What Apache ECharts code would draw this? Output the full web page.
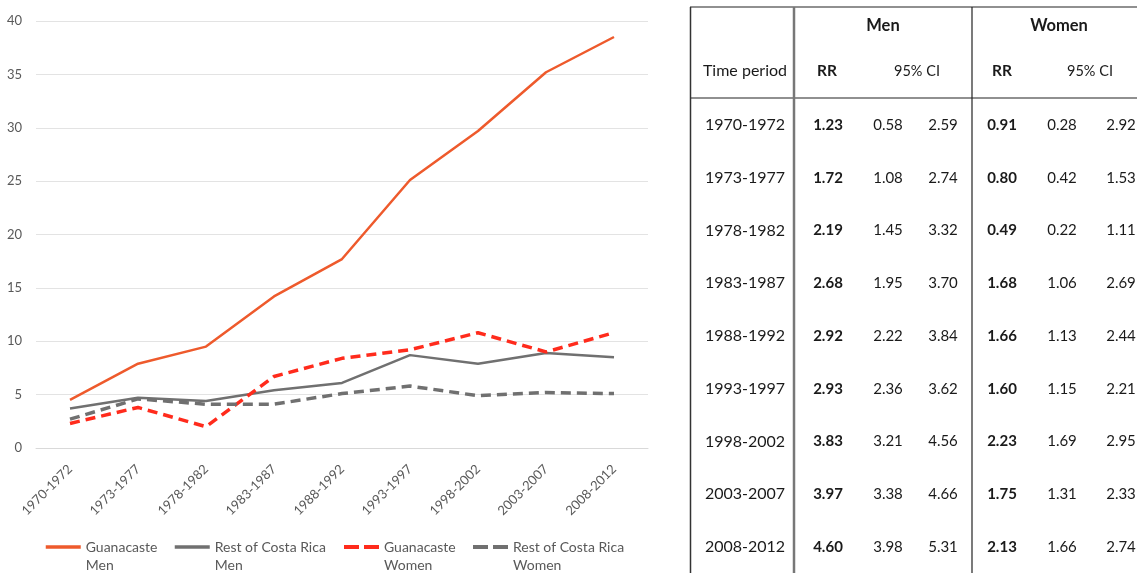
<!DOCTYPE html>
<html>
<head>
<meta charset="utf-8">
<script src="https://cdn.jsdelivr.net/npm/echarts@6/dist/echarts.min.js"></script>
<style>
html,body{margin:0;padding:0;background:#fff;}
#main{width:1137px;height:573px;}
</style>
</head>
<body>
<div id="main"></div>
<script>
// line chart data
var periods = ['1970-1972','1973-1977','1978-1982','1983-1987','1988-1992','1993-1997','1998-2002','2003-2007','2008-2012'];
var guanMen   = [4.5, 7.9, 9.5, 14.2, 17.7, 25.1, 29.7, 35.2, 38.5];
var restMen   = [3.7, 4.7, 4.4, 5.4, 6.1, 8.7, 7.9, 8.9, 8.5];
var guanWomen = [2.3, 3.8, 2.0, 6.7, 8.4, 9.2, 10.8, 9.0, 10.8];
var restWomen = [2.7, 4.6, 4.1, 4.1, 5.1, 5.8, 4.9, 5.2, 5.1];
var yTicks = [0, 40, 5]; // min, max, step

// table data
var menRR   = ['1.23','1.72','2.19','2.68','2.92','2.93','3.83','3.97','4.60'];
var menLo   = ['0.58','1.08','1.45','1.95','2.22','2.36','3.21','3.38','3.98'];
var menHi   = ['2.59','2.74','3.32','3.70','3.84','3.62','4.56','4.66','5.31'];
var womenRR = ['0.91','0.80','0.49','1.68','1.66','1.60','2.23','1.75','2.13'];
var womenLo = ['0.28','0.42','0.22','1.06','1.13','1.15','1.69','1.31','1.66'];
var womenHi = ['2.92','1.53','1.11','2.69','2.44','2.21','2.95','2.33','2.74'];

var FONT = 'Lato';
var txtColor = '#595959';

// table layout
var colX = [745, 828, 888, 943, 1002, 1062, 1121];
var rowY0 = 125, rowH = 52.75;
var graphics = [];
function addText(x, y, s, bold, size){
    graphics.push({
        type: 'text', x: x, y: y,
        style: {
            text: s, x: 0, y: 0, align: 'center', verticalAlign: 'middle',
            fill: '#1a1a1a', font: (bold ? 'bold ' : '') + (size || 15) + 'px ' + FONT
        }
    });
}
function addLine(x1, y1, x2, y2, w, c){
    graphics.push({
        type: 'line', shape: {x1: x1, y1: y1, x2: x2, y2: y2},
        style: {stroke: c || '#222', lineWidth: w || 1}
    });
}
addLine(690, 7, 1137, 7, 1.2);
addLine(690, 98, 1137, 98, 1.2);
addLine(690.5, 7, 690.5, 573, 1.5, '#333');
addLine(794, 7, 794, 573, 2.5, '#777');
addLine(972, 7, 972, 573, 1.2);
addText(883, 26, 'Men', true, 16.5);
addText(1059, 26, 'Women', true, 16.5);
addText(745, 71, 'Time period', false, 16);
addText(827, 71, 'RR', true, 15.5);
addText(917, 71, '95% CI', false, 14.5);
addText(1002, 71, 'RR', true, 15.5);
addText(1090, 71, '95% CI', false, 14.5);
periods.forEach(function(p, i){
    var y = rowY0 + i * rowH;
    addText(colX[0], y, p, false, 16);
    addText(colX[1], y, menRR[i], true);
    addText(colX[2], y, menLo[i], false);
    addText(colX[3], y, menHi[i], false);
    addText(colX[4], y, womenRR[i], true);
    addText(colX[5], y, womenLo[i], false);
    addText(colX[6], y, womenHi[i], false);
});

function legendAt(left, name, dashed){
    return {
        left: left, top: 520, padding: 0, itemWidth: 35, itemHeight: 14,
        data: [name],
        itemStyle: {opacity: 0},
        lineStyle: dashed ? {width: 4, type: [15, 5]} : {width: 3.5},
        textStyle: {fontFamily: FONT, fontSize: 14, color: txtColor, lineHeight: 18},
        formatter: function(n){ return ' \n' + n; }
    };
}

var chart = echarts.init(document.getElementById('main'));
var option = {
    animation: false,
    backgroundColor: '#fff',
    grid: {left: 36, right: 489, top: 21, bottom: 125, containLabel: false},
    xAxis: {
        type: 'category', data: periods, boundaryGap: true,
        axisLine: {lineStyle: {color: '#D9D9D9'}},
        axisTick: {show: false},
        axisLabel: {rotate: 45, fontFamily: FONT, fontSize: 13, color: txtColor, margin: 19, interval: 0}
    },
    yAxis: {
        type: 'value', min: yTicks[0], max: yTicks[1], interval: yTicks[2],
        axisLine: {show: false}, axisTick: {show: false},
        axisLabel: {fontFamily: FONT, fontSize: 13, color: txtColor, margin: 14},
        splitLine: {lineStyle: {color: '#E3E3E3'}}
    },
    legend: [
        legendAt(44, 'Guanacaste\nMen', false),
        legendAt(173, 'Rest of Costa Rica\nMen', false),
        legendAt(342, 'Guanacaste\nWomen', true),
        legendAt(471, 'Rest of Costa Rica\nWomen', true)
    ],
    graphic: graphics,
    series: [
        {name: 'Guanacaste\nMen', type: 'line', data: guanMen, symbol: 'none',
         lineStyle: {color: '#EE5A2C', width: 2.5}, itemStyle: {color: '#EE5A2C'}},
        {name: 'Rest of Costa Rica\nMen', type: 'line', data: restMen, symbol: 'none',
         lineStyle: {color: '#707070', width: 2.5}, itemStyle: {color: '#707070'}},
        {name: 'Guanacaste\nWomen', type: 'line', data: guanWomen, symbol: 'none',
         lineStyle: {color: '#FF2B1C', width: 3.5, type: [10, 6]}, itemStyle: {color: '#FF2B1C'}},
        {name: 'Rest of Costa Rica\nWomen', type: 'line', data: restWomen, symbol: 'none',
         lineStyle: {color: '#707070', width: 3.5, type: [10, 6]}, itemStyle: {color: '#707070'}}
    ]
};
chart.setOption(option);
</script>
</body>
</html>
